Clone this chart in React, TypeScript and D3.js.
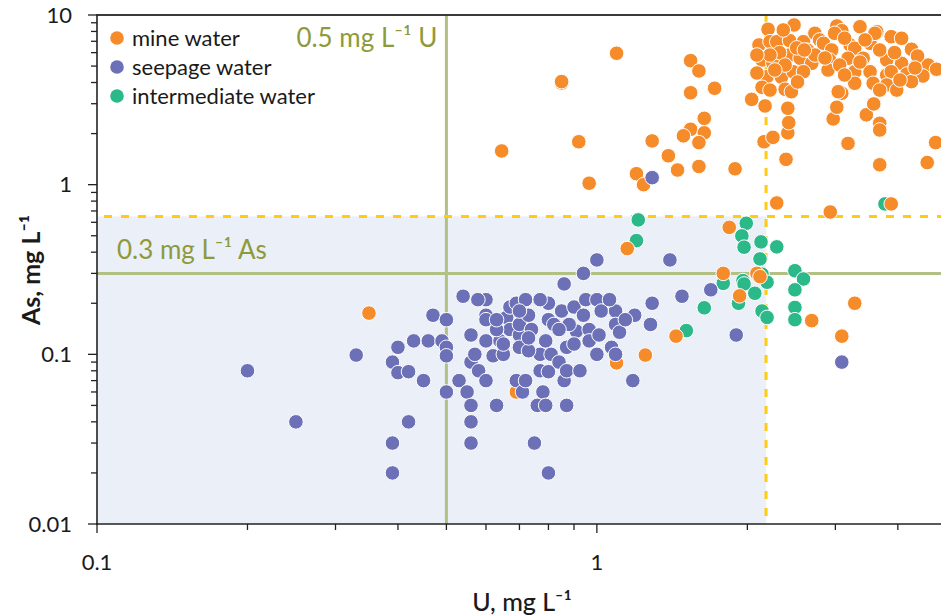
import React from "react";
import * as d3 from "d3";

// ---- data: [U mg/L, As mg/L]
const mineWater: [number, number][] = [
  [0.645, 1.58], [0.85, 3.97], [0.85, 4.05], [0.92, 1.79], [0.965, 1.02], [1.095, 5.95],
  [0.35, 0.175], [1.15, 0.42], [1.25, 0.099], [1.095, 0.089], [0.69, 0.06], [1.44, 0.128],
  [1.54, 5.38], [1.6, 4.68], [1.54, 3.48], [1.72, 3.7], [1.64, 2.46], [1.54, 2.12],
  [1.49, 1.94], [1.64, 2.02], [1.6, 1.77], [1.29, 1.81], [1.39, 1.48], [1.45, 1.22],
  [1.6, 1.28], [1.89, 1.24], [1.2, 1.16], [1.24, 1.0],
  [2.04, 3.18], [2.17, 2.91], [2.16, 1.79], [2.25, 1.9], [2.39, 1.41], [2.41, 2.02],
  [2.42, 2.32], [2.41, 2.82], [2.97, 2.44], [3.02, 2.86], [3.09, 3.46], [3.46, 2.58],
  [3.58, 2.99], [3.68, 2.3], [3.68, 2.1], [3.18, 1.75], [3.68, 1.31], [4.58, 1.35],
  [4.76, 1.77], [2.29, 0.78], [2.93, 0.69], [3.88, 0.77], [1.84, 0.56], [1.79, 0.3],
  [1.93, 0.221], [2.09, 0.3], [2.12, 0.287], [2.69, 0.158], [3.28, 0.2], [3.09, 0.128],
  // dense cluster
  [2.2, 8.24], [2.48, 8.73], [2.11, 6.66], [2.22, 6.96], [2.29, 6.96], [2.43, 7.06],
  [2.59, 6.96], [2.73, 7.8], [2.79, 7.13], [2.14, 5.43], [2.25, 5.19], [2.43, 5.81],
  [2.55, 5.56], [2.69, 5.19], [2.19, 4.33], [2.34, 4.3], [2.47, 4.63], [2.59, 4.63],
  [2.14, 3.75], [2.38, 3.65], [2.45, 3.53], [3.02, 8.62], [3.09, 8.08], [3.36, 8.53],
  [3.63, 7.97], [2.99, 7.8], [2.84, 6.81], [2.95, 6.22], [3.21, 6.66], [3.28, 6.37],
  [3.52, 6.81], [3.6, 7.8], [3.88, 7.45], [4.07, 7.29], [4.26, 6.28], [2.92, 5.43],
  [3.18, 5.56], [3.41, 5.56], [3.8, 5.43], [4.07, 5.19], [4.36, 5.07], [4.6, 5.07],
  [4.78, 4.79], [2.9, 4.74], [3.28, 4.63], [3.52, 4.63], [3.8, 4.43], [3.88, 4.63],
  [4.17, 4.49], [4.49, 4.37], [3.28, 3.96], [3.57, 3.96], [3.8, 3.87], [3.98, 3.61],
  [4.26, 4.05], [3.04, 3.53], [2.09, 4.55], [2.32, 6.0], [2.51, 6.4], [2.38, 5.07],
  [2.64, 6.2], [3.13, 7.3], [3.68, 6.22], [3.94, 6.0], [4.38, 5.73], [2.22, 5.81],
  [2.73, 5.81], [3.06, 5.07], [2.09, 5.81], [2.27, 4.74], [2.22, 3.61], [2.52, 4.03],
  [2.6, 6.22], [2.36, 8.16], [2.86, 5.58], [3.36, 5.28], [3.13, 4.43], [4.04, 4.14],
  [4.33, 4.87], [3.68, 3.61], [3.44, 7.13],
];

const seepageWater: [number, number][] = [
  [0.2, 0.08], [0.25, 0.04], [0.33, 0.099], [0.39, 0.03], [0.39, 0.02], [0.39, 0.09],
  [0.4, 0.11], [0.4, 0.078], [0.42, 0.079], [0.42, 0.04], [0.43, 0.12], [0.45, 0.07],
  [0.46, 0.12], [0.47, 0.17], [0.49, 0.12], [0.5, 0.16], [0.5, 0.11], [0.5, 0.098],
  [0.5, 0.06], [0.53, 0.07], [0.54, 0.22], [0.55, 0.06], [0.56, 0.13], [0.56, 0.09],
  [0.56, 0.05], [0.56, 0.04], [0.56, 0.03], [0.57, 0.1], [0.58, 0.08], [0.6, 0.21],
  [0.6, 0.17], [0.6, 0.16], [0.6, 0.12], [0.6, 0.07], [0.62, 0.098], [0.63, 0.05],
  [0.64, 0.12], [0.65, 0.1], [0.66, 0.165], [0.67, 0.19], [0.67, 0.14], [0.69, 0.2],
  [0.69, 0.07], [0.7, 0.13], [0.7, 0.11], [0.7, 0.15], [0.71, 0.06], [0.72, 0.07],
  [0.73, 0.17], [0.74, 0.14], [0.75, 0.03], [0.76, 0.05], [0.77, 0.1], [0.77, 0.08],
  [0.78, 0.06], [0.79, 0.05], [0.79, 0.12], [0.8, 0.2], [0.8, 0.16], [0.8, 0.079],
  [0.8, 0.02], [0.81, 0.1], [0.84, 0.09], [0.85, 0.18], [0.86, 0.26], [0.86, 0.07],
  [0.87, 0.05], [0.87, 0.11], [0.87, 0.08], [0.9, 0.19], [0.91, 0.137], [0.925, 0.08],
  [0.94, 0.3], [0.94, 0.17], [0.95, 0.21], [0.965, 0.14], [0.965, 0.12], [1.0, 0.36],
  [1.0, 0.21], [1.0, 0.1], [1.01, 0.13], [1.02, 0.18], [1.07, 0.11], [1.09, 0.18],
  [1.09, 0.15], [1.09, 0.1], [1.11, 0.135], [1.18, 0.07], [1.19, 0.17], [1.28, 0.15],
  [1.29, 0.2], [1.29, 1.1], [1.4, 0.36], [1.48, 0.22], [1.69, 0.24], [1.9, 0.13],
  [3.09, 0.09], [0.72, 0.21], [0.82, 0.15], [0.63, 0.14], [0.88, 0.15], [0.65, 0.115],
  [0.73, 0.105], [0.578, 0.21], [0.7, 0.18], [0.77, 0.21], [0.84, 0.14], [0.9, 0.115],
  [0.63, 0.16], [0.73, 0.125], [1.06, 0.21], [1.14, 0.16],
];

const intermediateWater: [number, number][] = [
  [1.21, 0.62], [1.2, 0.468], [1.64, 0.188], [1.51, 0.138], [1.79, 0.262], [1.92, 0.2],
  [1.99, 0.592], [1.95, 0.499], [1.97, 0.428], [2.13, 0.46], [2.29, 0.43], [2.12, 0.365],
  [2.14, 0.297], [2.19, 0.266], [1.96, 0.272], [1.97, 0.26], [2.07, 0.229], [2.14, 0.18],
  [2.19, 0.165], [2.49, 0.311], [2.59, 0.278], [2.49, 0.24], [2.49, 0.189], [2.49, 0.16],
  [3.77, 0.77],
];

const seriesNames = ["mine water", "seepage water", "intermediate water"];
const seriesColors = ["#F68B2A", "#6C70B6", "#2BB98A"];

const xTickLabels = ["0.1", "1"];
const yTickLabels = ["0.01", "0.1", "1", "10"];

const uLimit = 0.5;
const asLimit = 0.3;
const uBound = 2.18;
const asBound = 0.65;

const W = 941;
const H = 616;
const FONT = "Lato, 'Open Sans', sans-serif";

export default function App() {
  const x = d3.scaleLog().domain([0.1, 4.88]).range([97, 941]);
  const y = d3.scaleLog().domain([0.01, 10]).range([524, 15]);

  const xMinor: number[] = [];
  for (const d of [0.1, 1]) for (let k = 1; k < 10; k++) {
    const v = d * k;
    if (v <= 4.88) xMinor.push(v);
  }
  const yMinor: number[] = [];
  for (const d of [0.01, 0.1, 1]) for (let k = 1; k < 10; k++) yMinor.push(d * k);
  yMinor.push(10);

  const dot = (d: [number, number], i: number, c: string) => (
    <circle key={i} cx={x(d[0])} cy={y(d[1])} r={7.3} fill={c} stroke="#fff" strokeWidth={1} />
  );

  const sup = "\u207B\u00B9";
  const olive = "#8E9A3A";

  return (
    <svg width={W} height={H} style={{ position: "absolute", left: 0, top: 0, background: "#fff" }} fontFamily={FONT}>
      {/* shaded region */}
      <rect x={x(0.1)} y={y(asBound)} width={x(uBound) - x(0.1)} height={y(0.01) - y(asBound)} fill="#EBEFF7" />
      {/* threshold lines */}
      <line x1={x(uLimit)} x2={x(uLimit)} y1={y(10)} y2={y(0.01)} stroke="#B2C083" strokeWidth={3} />
      <line x1={x(0.1)} x2={W} y1={y(asLimit)} y2={y(asLimit)} stroke="#B2C083" strokeWidth={3} />
      <line x1={x(uBound)} x2={x(uBound)} y1={y(10)} y2={y(0.01)} stroke="#FFCC11" strokeWidth={3} strokeDasharray="8,9" />
      <line x1={x(0.1) + 7} x2={W} y1={y(asBound)} y2={y(asBound)} stroke="#FFCC11" strokeWidth={3} strokeDasharray="8,9" />

      {/* axes */}
      <line x1={x(0.1)} x2={W} y1={y(10)} y2={y(10)} stroke="#3a3a3a" strokeWidth={2} />
      <line x1={x(0.1)} x2={x(0.1)} y1={y(10) - 1} y2={y(0.01) + 1} stroke="#222" strokeWidth={1.6} />
      <line x1={x(0.1) - 1} x2={W} y1={y(0.01)} y2={y(0.01)} stroke="#222" strokeWidth={1.6} />
      {yMinor.map((v, i) => {
        const major = Math.abs(Math.log10(v) - Math.round(Math.log10(v))) < 1e-9;
        return <line key={"ym" + i} x1={x(0.1) - (major ? 9 : 6)} x2={x(0.1)} y1={y(v)} y2={y(v)} stroke="#222" strokeWidth={1.3} />;
      })}
      {xMinor.map((v, i) => {
        const major = Math.abs(Math.log10(v) - Math.round(Math.log10(v))) < 1e-9;
        return <line key={"xm" + i} x1={x(v)} x2={x(v)} y1={y(0.01)} y2={y(0.01) + (major ? 9 : 6)} stroke="#222" strokeWidth={1.3} />;
      })}
      {yTickLabels.map((t) => (
        <text key={t} x={72} y={y(+t)} dy="0.35em" textAnchor="end" fontSize={22} fill="#1a1a1a">{t}</text>
      ))}
      {xTickLabels.map((t) => (
        <text key={t} x={x(+t)} y={562} dy="0.35em" textAnchor="middle" fontSize={22} fill="#1a1a1a">{t}</text>
      ))}
      <text x={522} y={602} dy="0.35em" textAnchor="middle" fontSize={25} fontWeight={500} fill="#1a1a1a">{"U, mg L" + sup}</text>
      <text transform={`translate(31,270) rotate(-90)`} dy="0.35em" textAnchor="middle" fontSize={25} fontWeight={700} fill="#1a1a1a">{"As, mg L" + sup}</text>

      {/* threshold labels */}
      <text x={x(uLimit) - 9} y={47} textAnchor="end" fontSize={26} fill={olive}>{"0.5 mg L" + sup + " U"}</text>
      <text x={117} y={259} fontSize={26} fill={olive}>{"0.3 mg L" + sup + " As"}</text>

      {/* points */}
      <g>{intermediateWater.map((d, i) => dot(d, i, seriesColors[2]))}</g>
      <g>{mineWater.map((d, i) => dot(d, i, seriesColors[0]))}</g>
      <g>{seepageWater.map((d, i) => dot(d, i, seriesColors[1]))}</g>

      {/* legend */}
      {seriesNames.map((n, i) => (
        <g key={n} transform={`translate(117,${38 + i * 29})`}>
          <circle r={6.8} fill={seriesColors[i]} />
          <text x={15} dy="0.35em" fontSize={22} fill="#1a1a1a">{n}</text>
        </g>
      ))}
    </svg>
  );
}
